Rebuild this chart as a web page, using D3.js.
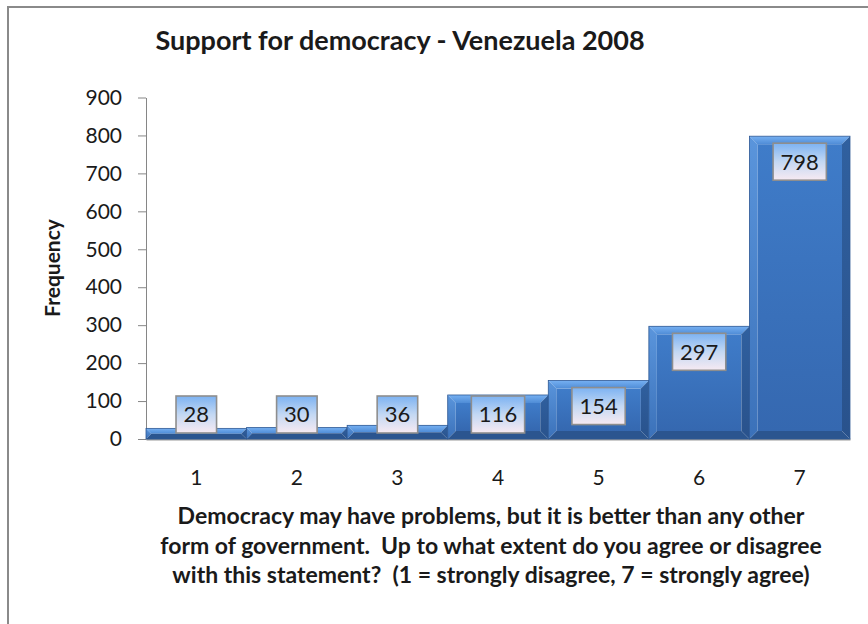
<!DOCTYPE html>
<html>
<head>
<meta charset="utf-8">
<script src="https://cdn.jsdelivr.net/npm/d3@7"></script>
<style>
body { margin: 0; background: #fff; }
text { font-family: Lato, "Open Sans", sans-serif; fill: #1a1a1a; }
</style>
</head>
<body>
<div id="chart"></div>
<script>
// chart data
var categories = ["1", "2", "3", "4", "5", "6", "7"];
var frequencies = [28, 30, 36, 116, 154, 297, 798];
var yTickValues = [0, 100, 200, 300, 400, 500, 600, 700, 800, 900];
var titleText = "Support for democracy - Venezuela 2008";
var yTitleText = "Frequency";
var xTitleLines = [
    "Democracy may have problems, but it is better than any other",
    "form of government.  Up to what extent do you agree or disagree",
    "with this statement?  (1 = strongly disagree, 7 = strongly agree)"
];

var svgWidth = 868;
var svgHeight = 624;

var margin = {
    top: 97.5,
    right: 18,
    bottom: 185,
    left: 146
};

var width = svgWidth - margin.left - margin.right;
var height = svgHeight - margin.top - margin.bottom;

var svg = d3.select("#chart")
    .append("svg")
    .attr("width", svgWidth)
    .attr("height", svgHeight);

// gradients for the bevelled bars and the label boxes
var defs = svg.append("defs");
function vGradient(id, stops) {
    var g = defs.append("linearGradient")
        .attr("id", id)
        .attr("x1", 0).attr("y1", 0)
        .attr("x2", 0).attr("y2", 1);
    stops.forEach(function(s) {
        g.append("stop").attr("offset", s[0]).attr("stop-color", s[1]);
    });
}
vGradient("faceGrad", [[0, "#3f7cc9"], [1, "#3568b0"]]);
vGradient("topGrad", [[0, "#76b0f2"], [1, "#4f8cd6"]]);
vGradient("leftGrad", [[0, "#5a95dc"], [1, "#3b71b9"]]);
vGradient("rightGrad", [[0, "#30609f"], [1, "#29528c"]]);
vGradient("labelGrad", [[0, "#7cb2f2"], [0.5, "#c3d8f3"], [1, "#f7eaf2"]]);

// chart frame (runs off the right and bottom of the picture)
svg.append("rect")
    .attr("x", 8)
    .attr("y", 7)
    .attr("width", 900)
    .attr("height", 700)
    .attr("fill", "#fff")
    .attr("stroke", "#8a8a8a")
    .attr("stroke-width", 2);

var chartGroup = svg.append("g")
    .attr("transform", `translate(${margin.left},${margin.top})`);

var xScale = d3.scaleBand()
    .domain(categories)
    .range([0, width])
    .padding(0);

var yScale = d3.scaleLinear()
    .domain([0, 900])
    .range([height, 0]);

// y axis
var leftAxis = d3.axisLeft(yScale)
    .tickValues(yTickValues)
    .tickSize(8)
    .tickSizeOuter(0)
    .tickPadding(16);

var yAxis = chartGroup.append("g").call(leftAxis);
yAxis.selectAll("path, line").attr("stroke", "#868686");
yAxis.selectAll("text")
    .style("font-size", "21px")
    .attr("fill", "#1a1a1a");

// x axis
var bottomAxis = d3.axisBottom(xScale)
    .tickSize(0)
    .tickPadding(31);

var xAxis = chartGroup.append("g")
    .attr("transform", `translate(0, ${height})`)
    .call(bottomAxis);
xAxis.select("path").attr("stroke", "#9a9a9a").attr("stroke-width", 2);
xAxis.selectAll("text")
    .style("font-size", "21px")
    .attr("fill", "#1a1a1a");

// bevelled bars
var bars = chartGroup.selectAll(".bar")
    .data(frequencies)
    .enter()
    .append("g")
    .attr("class", "bar");

bars.each(function(d, i) {
    var g = d3.select(this);
    var x0 = xScale(categories[i]);
    var x1 = x0 + xScale.bandwidth();
    var yt = yScale(d);
    var yb = yScale(0);
    var b = Math.min(8, (yb - yt) / 2);

    g.append("rect")
        .attr("x", x0 + b)
        .attr("y", yt + b)
        .attr("width", x1 - x0 - 2 * b)
        .attr("height", Math.max(0, yb - yt - 2 * b))
        .attr("fill", "url(#faceGrad)");
    // top
    g.append("polygon")
        .attr("points", [[x0, yt], [x1, yt], [x1 - b, yt + b], [x0 + b, yt + b]].join(" "))
        .attr("fill", "url(#topGrad)");
    // left
    g.append("polygon")
        .attr("points", [[x0, yt], [x0 + b, yt + b], [x0 + b, yb - b], [x0, yb]].join(" "))
        .attr("fill", "url(#leftGrad)");
    // right
    g.append("polygon")
        .attr("points", [[x1, yt], [x1, yb], [x1 - b, yb - b], [x1 - b, yt + b]].join(" "))
        .attr("fill", "url(#rightGrad)");
    // bottom
    g.append("polygon")
        .attr("points", [[x0, yb], [x0 + b, yb - b], [x1 - b, yb - b], [x1, yb]].join(" "))
        .attr("fill", "#2b558f");
    // thin edge between neighbouring bars
    g.append("rect")
        .attr("x", x0)
        .attr("y", yt)
        .attr("width", x1 - x0)
        .attr("height", yb - yt)
        .attr("fill", "none")
        .attr("stroke", "#2d5894")
        .attr("stroke-width", 0.8);
});

// data labels in boxes
var labels = chartGroup.selectAll(".dlabel")
    .data(frequencies)
    .enter()
    .append("g")
    .attr("class", "dlabel");

labels.each(function(d, i) {
    var g = d3.select(this);
    var cx = xScale(categories[i]) + xScale.bandwidth() / 2;
    var boxH = 37;
    var top = Math.min(yScale(d) + 7, yScale(0) - 43);
    var box = g.append("rect")
        .attr("y", top)
        .attr("height", boxH)
        .attr("fill", "url(#labelGrad)")
        .attr("stroke", "#8e8e8e")
        .attr("stroke-width", 1.6);
    var t = g.append("text")
        .attr("x", cx)
        .attr("y", top + boxH / 2)
        .attr("dy", "0.36em")
        .attr("text-anchor", "middle")
        .style("font-size", "22px")
        .text(d);
    var w = t.node().getComputedTextLength() + 15;
    box.attr("x", cx - w / 2).attr("width", w);
});

// chart title
svg.append("text")
    .attr("x", 400)
    .attr("y", 50)
    .attr("text-anchor", "middle")
    .style("font-size", "27px")
    .style("font-weight", "bold")
    .text(titleText);

// y axis title
svg.append("text")
    .attr("transform", "translate(60, 268) rotate(-90)")
    .attr("text-anchor", "middle")
    .style("font-size", "21px")
    .style("font-weight", "bold")
    .text(yTitleText);

// x axis title
svg.append("g")
    .selectAll("text")
    .data(xTitleLines)
    .enter()
    .append("text")
    .attr("x", 491)
    .attr("y", (d, i) => 524 + i * 29.5)
    .attr("text-anchor", "middle")
    .style("font-size", "23px")
    .style("font-weight", "bold")
    .style("white-space", "pre")
    .text(d => d);
</script>
</body>
</html>
